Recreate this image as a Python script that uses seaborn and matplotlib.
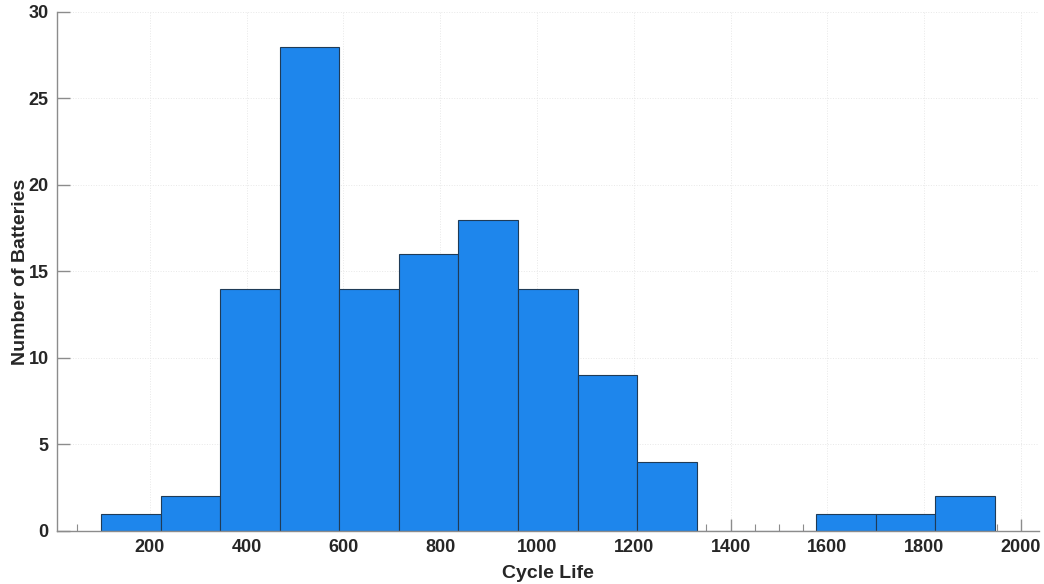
import matplotlib.pyplot as plt
import seaborn as sns
import numpy as np
import pandas as pd

# bin edges and counts
bin_edges = [98.7, 221.9, 345.0, 468.2, 591.4, 714.5, 837.7, 960.9,
             1084.1, 1207.2, 1330.4, 1453.6, 1576.7, 1699.9, 1823.1, 1946.2]
counts = [1, 2, 14, 28, 14, 16, 18, 14, 9, 4, 0, 0, 1, 1, 2]

x_ticks = [200, 400, 600, 800, 1000, 1200, 1400, 1600, 1800, 2000]
y_ticks = [0, 5, 10, 15, 20, 25, 30]

centers = [(a + b) / 2 for a, b in zip(bin_edges[:-1], bin_edges[1:])]
df = pd.DataFrame({'cycle_life': centers, 'n': counts})

sns.set_style('white')
plt.rcParams['font.family'] = ['Liberation Sans', 'DejaVu Sans']

fig = plt.figure(figsize=(10.44, 5.84), dpi=100)
ax = fig.add_axes([0.0546, 0.0908, 0.9404, 0.8887])

sns.histplot(data=df, x='cycle_life', weights='n', bins=bin_edges,
             color='#1e86ec', alpha=1.0, edgecolor='#1f3b57', linewidth=0.8, ax=ax)

ax.set_xlim(8, 2037)
ax.set_ylim(0, 30)
ax.set_xticks(x_ticks)
ax.set_yticks(y_ticks)
ax.set_xticks(np.arange(50, 2001, 50), minor=True)

ax.grid(True, which='major', linestyle=':', color='#e8e8e8', linewidth=0.7)
ax.set_axisbelow(True)

for side in ['top', 'right']:
    ax.spines[side].set_visible(False)
for side in ['left', 'bottom']:
    ax.spines[side].set_color('#8c8c8c')
    ax.spines[side].set_linewidth(1.0)

ax.tick_params(axis='both', which='major', direction='in', length=9, width=1.0,
               color='#8c8c8c', labelsize=13, labelcolor='#262626', pad=6,
               bottom=True, left=True)
ax.tick_params(axis='x', which='minor', direction='in', length=5, width=0.8,
               color='#8c8c8c', bottom=True)
ax.tick_params(axis='y', which='minor', left=False)
for lbl in ax.get_xticklabels() + ax.get_yticklabels():
    lbl.set_fontweight('bold')

ax.set_xlabel('Cycle Life', fontsize=14, fontweight='bold', color='#262626', labelpad=6)
ax.set_ylabel('Number of Batteries', fontsize=14, fontweight='bold', color='#262626', labelpad=0)

fig.savefig('out.png', dpi=100)
